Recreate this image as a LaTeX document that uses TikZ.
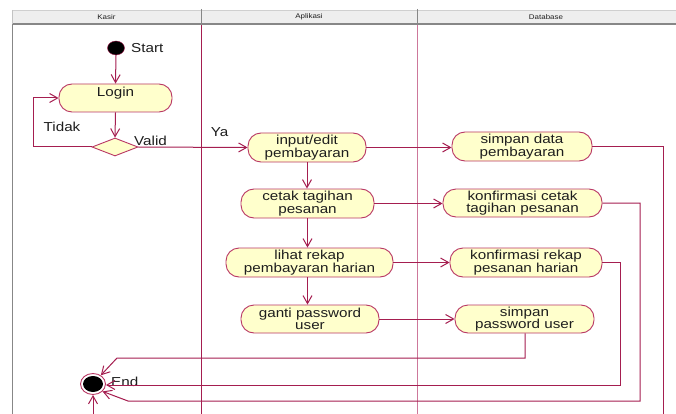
\documentclass[tikz,border=0pt]{standalone}
\usepackage{fontspec}
\setmainfont[FakeStretch=1.17]{Liberation Sans}
\usetikzlibrary{arrows.meta,shapes.geometric}

\definecolor{flow}{RGB}{165,30,80}
\definecolor{edge}{RGB}{185,55,100}
\definecolor{lanepink}{RGB}{205,120,155}
\definecolor{actfill}{RGB}{255,255,204}
\definecolor{headfill}{RGB}{238,238,238}
\definecolor{headline}{RGB}{135,135,135}
\definecolor{ink}{RGB}{30,30,30}

\tikzset{
  act/.style={draw=edge, fill=actfill, rounded corners=13pt, line width=0.9pt,
    inner sep=0pt, align=center, text=ink,
    font=\fontsize{13}{12.5}\selectfont},
  lbl/.style={inner sep=0pt, text=ink, font=\fontsize{13}{13}\selectfont},
  hdr/.style={inner sep=0pt, text=ink, font=\fontsize{6.8}{7}\selectfont},
  arr/.style={draw=flow, line width=1pt,
    -{Straight Barb[length=8pt,width=9pt]}},
}

\begin{document}
\begin{tikzpicture}[x=1pt,y=-1pt]
\clip (0,0) rectangle (676,414);
\fill[white] (0,0) rectangle (676,414);

% swimlane header
\fill[headfill] (12,10) rectangle (676,24);
\draw[headline!40, line width=0.5pt] (12,10) -- (676,10);
\draw[headline, line width=2pt] (12,24.5) -- (676,24.5);
\draw[headline!50, line width=0.6pt] (12,10) -- (12,24);
\draw[headline, line width=1.6pt] (201.5,9) -- (201.5,24);
\draw[headline, line width=1.6pt] (417.5,9) -- (417.5,24);
\node[hdr] (hk) at (106.5,17) {Kasir};
\node[hdr] (ha) at (309,17) {Aplikasi};
\node[hdr] (hd) at (546,17) {Database};

% lane borders
\draw[headline, line width=1pt] (12.5,25.5) -- (12.5,414);
\draw[flow, line width=1pt] (201.5,25.5) -- (201.5,414);
\draw[lanepink, line width=1.2pt] (417.5,25.5) -- (417.5,414);

% start and login
\node[ellipse, draw=flow, fill=black, minimum width=17pt, minimum height=14pt,
      inner sep=0pt] (start) at (116,48) {};
\node[lbl, anchor=west] (startl) at (131,48) {Start};
\node[act, minimum width=113pt, minimum height=28pt] (login) at (115.5,98) {Login\\~};
\node[diamond, draw=edge, fill=actfill, line width=0.9pt, inner sep=0pt,
      minimum width=46pt, minimum height=18pt] (dec) at (115,147) {};

% activities
\node[act, minimum width=118pt, minimum height=29pt] (input) at (307,147.5) {input/edit\\pembayaran};
\node[act, minimum width=133pt, minimum height=29pt] (cetak) at (307.5,203.5) {cetak tagihan\\pesanan};
\node[act, minimum width=167pt, minimum height=29pt] (lihat) at (309.5,262.5) {lihat rekap\\pembayaran harian};
\node[act, minimum width=138pt, minimum height=28pt] (ganti) at (310,319) {ganti password\\user};

\node[act, minimum width=140pt, minimum height=29pt] (sdata) at (522,146.5) {simpan data\\pembayaran};
\node[act, minimum width=159pt, minimum height=28pt] (kcetak) at (522.5,203) {konfirmasi cetak\\tagihan pesanan};
\node[act, minimum width=152pt, minimum height=29pt] (krekap) at (526,262.5) {konfirmasi rekap\\pesanan harian};
\node[act, minimum width=139pt, minimum height=28pt] (spw) at (524.5,319) {simpan\\password user};

% end node
\node[ellipse, draw=edge, fill=white, line width=0.9pt, minimum width=25pt,
      minimum height=21pt, inner sep=0pt,
      path picture={\fill[black] (path picture bounding box.center) ellipse (10pt and 8pt);}]
      (endn) at (93,384) {};
\node[lbl, anchor=west] (endl) at (111,382) {End};

% labels on the decision
\node[lbl] (tidak) at (62,127) {Tidak};
\node[lbl, anchor=west] (valid) at (134,141) {Valid};
\node[lbl] (ya) at (219.5,132) {Ya};

% control flow
\draw[arr] (start.south) -- (login.north);
\draw[arr] (login.south) -- (dec.north);
\coordinate (tback) at (33,147);
\draw[arr] (dec.west) -- (tback) |- (login.west);
\draw[arr] (dec.east) -- (input.west);

\draw[arr] (input.south) -- (cetak.north -| input.south);
\draw[arr] (cetak.south) -- (lihat.north -| cetak.south);
\draw[arr] (lihat.south -| cetak.south) -- (ganti.north -| cetak.south);

\draw[arr] (input.east) -- (input.east -| sdata.west);
\draw[arr] (cetak.east) -- (cetak.east -| kcetak.west);
\draw[arr] (lihat.east) -- (lihat.east -| krekap.west);
\draw[arr] (ganti.east) -- (ganti.east -| spw.west);

% flows to the end node
\coordinate (sdown) at (663,430);
\draw[arr] (sdata.east) -| (sdown) -| (endn.south);

\coordinate (kcdown) at (640,401);
\coordinate (kcbend) at (128,401);
\draw[arr] (kcetak.east) -| (kcdown) -- (kcbend) -- (endn.-38);

\coordinate (krdown) at (620,385);
\draw[arr] (krekap.east) -| (krdown) -- (endn.east |- krdown);

\coordinate (spdown) at (525,358);
\coordinate (spbend) at (117,358);
\draw[arr] (spw.south -| spdown) -- (spdown) -- (spbend) -- (endn.48);
\end{tikzpicture}
\end{document}
